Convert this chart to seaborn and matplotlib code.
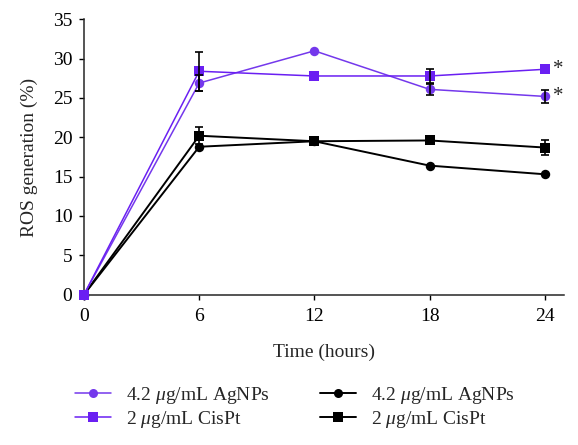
import matplotlib
matplotlib.use("Agg")
import matplotlib.pyplot as plt
import numpy as np
import pandas as pd
import seaborn as sns

# time points (hours)
hours = [0, 6, 12, 18, 24]

# ROS generation (%)
agnps_purple = [0, 26.9, 31.0, 26.1, 25.2]
agnps_purple_err = [0, 1.0, 0, 0.7, 0.8]
cispt_purple = [0, 28.4, 27.8, 27.8, 28.65]
cispt_purple_err = [0, 2.5, 0, 0.9, 0]
agnps_black = [0, 18.8, 19.5, 16.4, 15.3]
agnps_black_err = [0, 0, 0, 0, 0]
cispt_black = [0, 20.2, 19.5, 19.6, 18.7]
cispt_black_err = [0, 1.1, 0, 0.5, 0.9]

series_keys = ["agnps_black", "cispt_black", "agnps_purple", "cispt_purple"]
series_labels = {
    "agnps_purple": r"4.2 $\mu$g/mL AgNPs",
    "cispt_purple": r"2 $\mu$g/mL CisPt",
    "agnps_black": r"4.2 $\mu$g/mL AgNPs",
    "cispt_black": r"2 $\mu$g/mL CisPt",
}
series_values = {
    "agnps_purple": (agnps_purple, agnps_purple_err),
    "cispt_purple": (cispt_purple, cispt_purple_err),
    "agnps_black": (agnps_black, agnps_black_err),
    "cispt_black": (cispt_black, cispt_black_err),
}
colors = {
    "agnps_purple": "#7438ec",
    "cispt_purple": "#6a1ff2",
    "agnps_black": "#000000",
    "cispt_black": "#000000",
}
markers = {
    "agnps_purple": "o",
    "cispt_purple": "s",
    "agnps_black": "o",
    "cispt_black": "s",
}
widths = {
    "agnps_purple": 1.1,
    "cispt_purple": 1.1,
    "agnps_black": 1.4,
    "cispt_black": 1.4,
}
starred = ["agnps_purple", "cispt_purple"]

rows = []
for key in series_keys:
    vals, errs = series_values[key]
    for h, v, e in zip(hours, vals, errs):
        rows.append({"hours": h, "ros": v, "err": e, "series": key})
df = pd.DataFrame(rows)

sns.set_style("ticks")
plt.rcParams["font.family"] = ["Liberation Serif", "DejaVu Serif"]
plt.rcParams["mathtext.fontset"] = "custom"
plt.rcParams["mathtext.rm"] = "Liberation Serif"
plt.rcParams["mathtext.it"] = "Liberation Serif:italic"

fig = plt.figure(figsize=(5.78, 4.45), dpi=100)
ax = fig.add_axes([0.1453, 0.338, 0.8305, 0.6185])

for key in series_keys:
    sns.lineplot(
        data=df[df.series == key], x="hours", y="ros",
        color=colors[key], marker=markers[key],
        markersize=6.8, markeredgewidth=0, linewidth=widths[key],
        ax=ax, clip_on=False, zorder=3,
    )

# error bars (black, capped)
for key in series_keys:
    sub = df[(df.series == key) & (df.err > 0)]
    ax.errorbar(sub.hours, sub.ros, yerr=sub.err, fmt="none", ecolor="black",
                elinewidth=1.2, capsize=3.2, capthick=1.2, zorder=4)

# significance markers
for key in starred:
    sub = df[(df.series == key) & (df.hours == hours[-1])]
    ax.text(sub.hours.iloc[0] + 0.45, sub.ros.iloc[0], "*", fontsize=15,
            ha="left", va="center")

ax.set_xlim(0, 25)
ax.set_ylim(0, 35)
ax.set_xticks(hours)
ax.set_yticks(np.arange(0, 36, 5))
ax.tick_params(direction="out", length=3.3, width=1, labelsize=14,
               colors="black")
ax.tick_params(axis="x", pad=6)
ax.tick_params(axis="y", pad=5)
for side in ["left", "bottom"]:
    ax.spines[side].set_linewidth(1.1)
sns.despine(ax=ax)
ax.set_xlabel("Time (hours)", fontsize=14, labelpad=14)
ax.set_ylabel("ROS generation (%)", fontsize=14, labelpad=11)

order = ["agnps_purple", "cispt_purple", "agnps_black", "cispt_black"]
handles = [
    plt.Line2D([], [], color=colors[k], marker=markers[k], markersize=6.5,
               markeredgewidth=0, linewidth=widths[k])
    for k in order
]
fig.legend(handles, [series_labels[k] for k in order], ncol=2, frameon=False,
           loc="center", bbox_to_anchor=(0.51, 0.084), fontsize=14,
           handlelength=1.85, columnspacing=2.6, labelspacing=0.15,
           handletextpad=0.75)

fig.savefig("out.png", dpi=100)
